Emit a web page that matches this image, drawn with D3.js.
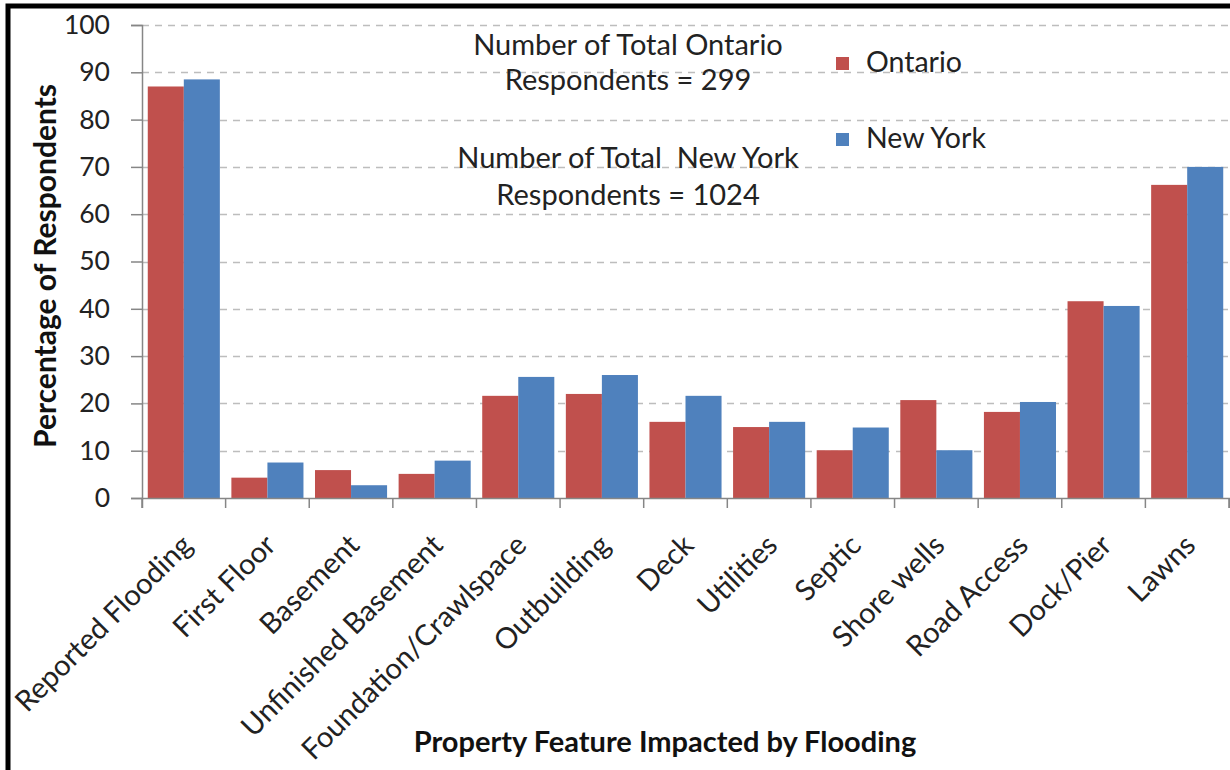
<!DOCTYPE html>
<html>
<head>
<meta charset="utf-8">
<script src="https://cdn.jsdelivr.net/npm/d3@7/dist/d3.min.js"></script>
<style>
  html, body { margin: 0; padding: 0; background: #fff; }
  svg { display: block; font-family: Lato, "Open Sans", sans-serif; }
</style>
</head>
<body>
<svg id="chart" width="1230" height="770"></svg>
<script>
const categories = ["Reported Flooding", "First Floor", "Basement", "Unfinished Basement",
  "Foundation/Crawlspace", "Outbuilding", "Deck", "Utilities", "Septic", "Shore wells",
  "Road Access", "Dock/Pier", "Lawns"];
const seriesNames = ["Ontario", "New York"];
const ontarioValues = [87.0, 4.3, 5.9, 5.1, 21.6, 22.0, 16.1, 15.0, 10.1, 20.7, 18.2, 41.6, 66.2];
const newYorkValues = [88.5, 7.5, 2.7, 7.9, 25.6, 26.0, 21.6, 16.1, 14.9, 10.1, 20.3, 40.6, 70.0];
const yTicks = [0, 10, 20, 30, 40, 50, 60, 70, 80, 90, 100];
const annotationLines = ["Number of Total Ontario", "Respondents = 299", "Number of Total  New York", "Respondents = 1024"];
const colors = {"Ontario": "#C0504D", "New York": "#4F81BD"};

const svg = d3.select("#chart");
const plot = {left: 142, right: 1229, top: 25, bottom: 498};

// border
svg.append("rect").attr("x", 8).attr("y", 6).attr("width", 1300).attr("height", 900)
  .attr("fill", "none").attr("stroke", "#000").attr("stroke-width", 5);

const x0 = d3.scaleBand().domain(categories).range([plot.left, plot.right]).paddingInner(0).paddingOuter(0);
const x1 = d3.scaleBand().domain(seriesNames).range([0, x0.bandwidth()]).paddingInner(0).paddingOuter(0.16);
const y = d3.scaleLinear().domain([0, 100]).range([plot.bottom, plot.top]);

// gridlines
svg.append("g").selectAll("line").data(yTicks.filter(d => d > 0)).join("line")
  .attr("x1", plot.left).attr("x2", plot.right)
  .attr("y1", d => Math.round(y(d)) + 0.5).attr("y2", d => Math.round(y(d)) + 0.5)
  .attr("stroke", "#bdbdbd").attr("stroke-width", 1.3).attr("stroke-dasharray", "7,6");

// bars
const data = categories.map((c, i) => ({cat: c, vals: [
  {s: "Ontario", v: ontarioValues[i]}, {s: "New York", v: newYorkValues[i]}]}));
const groups = svg.append("g").selectAll("g").data(data).join("g")
  .attr("transform", d => `translate(${x0(d.cat)},0)`);
groups.selectAll("rect").data(d => d.vals).join("rect")
  .attr("x", d => x1(d.s)).attr("width", x1.bandwidth())
  .attr("y", d => y(d.v)).attr("height", d => y(0) - y(d.v))
  .attr("fill", d => colors[d.s]);

// y axis
const yAxis = d3.axisLeft(y).tickValues(yTicks).tickSize(11).tickPadding(21);
const gy = svg.append("g").attr("transform", `translate(${plot.left},0)`).call(yAxis);
gy.select(".domain").attr("stroke", "#868686").attr("stroke-width", 1.5);
gy.selectAll(".tick line").attr("stroke", "#868686").attr("stroke-width", 1.5);
gy.selectAll(".tick text").attr("font-size", 26.5).attr("fill", "#222").attr("font-family", "Lato");

// x axis
const xAxis = d3.axisBottom(x0).tickSize(10).tickFormat("");
const gx = svg.append("g").attr("transform", `translate(0,${plot.bottom})`).call(xAxis);
gx.select(".domain").attr("stroke", "#868686").attr("stroke-width", 1.5);
gx.selectAll(".tick").remove();
const edges = categories.map(c => x0(c)).concat([plot.right]);
gx.selectAll("line.edge").data(edges).join("line").attr("class", "edge")
  .attr("x1", d => d).attr("x2", d => d).attr("y1", 0).attr("y2", 10)
  .attr("stroke", "#868686").attr("stroke-width", 1.5);

// x tick labels
svg.append("g").selectAll("text").data(categories).join("text")
  .attr("transform", d => `translate(${x0(d) + x0.bandwidth() / 2 + 10},${547}) rotate(-45)`)
  .attr("text-anchor", "end").attr("font-size", 29).attr("fill", "#222")
  .text(d => d);

// axis titles
svg.append("text").attr("transform", "translate(56,266) rotate(-90)")
  .attr("text-anchor", "middle").attr("font-size", 30).attr("font-weight", "bold").attr("fill", "#111")
  .text("Percentage of Respondents");
svg.append("text").attr("x", 665).attr("y", 752)
  .attr("text-anchor", "middle").attr("font-size", 29).attr("font-weight", "bold").attr("fill", "#111")
  .text("Property Feature Impacted by Flooding");

// annotation
const annY = [55, 90, 168, 205];
svg.append("g").selectAll("text").data(annotationLines).join("text")
  .attr("x", 628).attr("y", (d, i) => annY[i])
  .attr("text-anchor", "middle").attr("font-size", 29).attr("fill", "#222")
  .style("white-space", "pre").attr("xml:space", "preserve")
  .text(d => d);

// legend
const leg = svg.append("g").selectAll("g").data(seriesNames).join("g")
  .attr("transform", (d, i) => `translate(836,${57 + i * 76})`);
leg.append("rect").attr("width", 13).attr("height", 13).attr("fill", d => colors[d]);
leg.append("text").attr("x", 30).attr("y", 15).attr("font-size", 28.5).attr("fill", "#222").text(d => d);
</script>
</body>
</html>
